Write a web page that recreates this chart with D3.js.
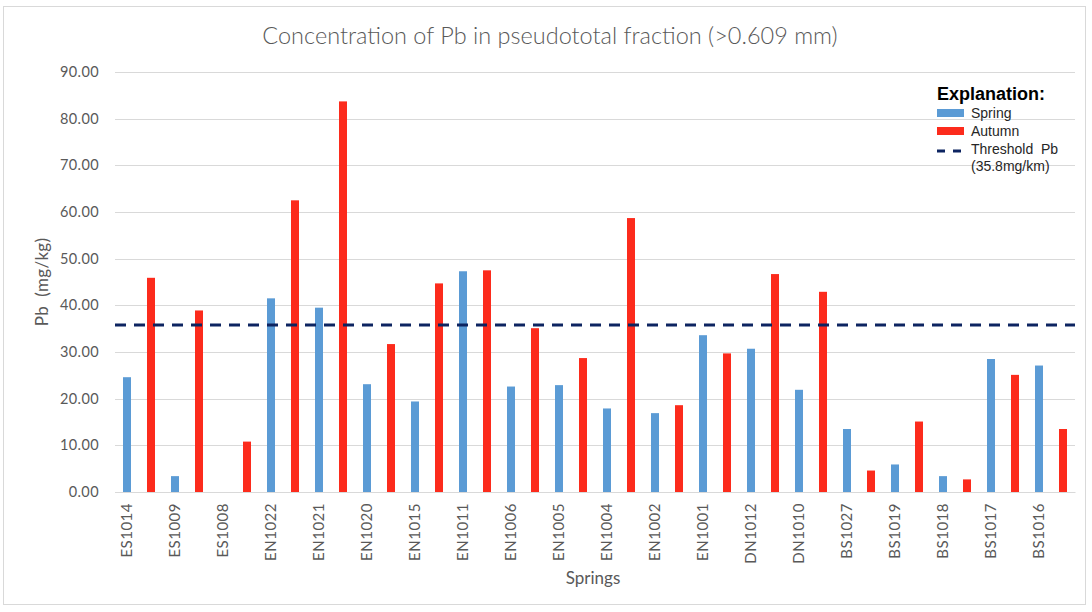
<!DOCTYPE html>
<html><head><meta charset="utf-8">
<script src="https://cdn.jsdelivr.net/npm/d3@7"></script>
<style>body{margin:0;background:#fff;} svg{display:block;} text{white-space:pre;}</style>
</head><body>
<svg id="c" width="1092" height="612"></svg>
<script>
const springs = ["ES1014","ES1009","ES1008","EN1022","EN1021","EN1020","EN1015","EN1011","EN1006","EN1005","EN1004","EN1002","EN1001","DN1012","DN1010","BS1027","BS1019","BS1018","BS1017","BS1016"];
const springValues = [24.6,3.4,0,41.5,39.5,23.1,19.4,47.3,22.6,22.9,17.9,16.9,33.6,30.7,21.9,13.5,5.9,3.4,28.5,27.1];
const autumnValues = [45.9,38.9,10.8,62.5,83.7,31.7,44.7,47.5,35.1,28.7,58.7,18.6,29.7,46.7,42.9,4.6,15.1,2.7,25.1,13.5];
const threshold = 35.8;
const yTicks = [0,10,20,30,40,50,60,70,80,90];

const svg = d3.select("#c");
const M = {left:115, right:1075, top:72, bottom:492};
const font = "Lato, 'Open Sans', sans-serif";

// outer border
svg.append("rect").attr("x",3.5).attr("y",6.5).attr("width",1082).attr("height",598)
  .attr("fill","#fff").attr("stroke","#d9d9d9").attr("stroke-width",1);

const keys = [];
springs.forEach(s => { keys.push(s+"|S"); keys.push(s+"|A"); });
const x = d3.scaleBand().domain(keys).range([M.left, M.right]).paddingInner(0).paddingOuter(0);
const y = d3.scaleLinear().domain([0,90]).range([M.bottom, M.top]);
const bw = 8;

// gridlines
svg.append("g").selectAll("line").data(yTicks).join("line")
  .attr("x1",M.left).attr("x2",M.right)
  .attr("y1",d=>Math.round(y(d))+0.5).attr("y2",d=>Math.round(y(d))+0.5)
  .attr("stroke","#d9d9d9").attr("stroke-width",1);

// y axis labels
const yAxis = d3.axisLeft(y).tickValues(yTicks).tickFormat(d3.format(".2f")).tickSize(0).tickPadding(0);
const gy = svg.append("g").attr("transform",`translate(${M.left-16},0)`).call(yAxis);
gy.select(".domain").remove();
gy.selectAll("text").attr("font-family",font).attr("font-size",14.5).attr("letter-spacing","0.4px").attr("fill","#595959");

const data = [];
springs.forEach((s,i)=>{
  data.push({key:s+"|S", v:springValues[i], c:"#5b9bd5"});
  data.push({key:s+"|A", v:autumnValues[i], c:"#fc2b1c"});
});
svg.append("g").selectAll("rect").data(data.filter(d=>d.v>0)).join("rect")
  .attr("x",d=>x(d.key)+x.bandwidth()/2-bw/2)
  .attr("width",bw)
  .attr("y",d=>y(d.v))
  .attr("height",d=>y(0)-y(d.v))
  .attr("fill",d=>d.c);

// x axis
const xAxis = d3.axisBottom(x).tickValues(springs.map(s=>s+"|S")).tickFormat(d=>d.split("|")[0]).tickSize(0).tickPadding(0);
const gx = svg.append("g").attr("transform",`translate(0,${M.bottom})`).call(xAxis);
gx.select(".domain").attr("stroke","#d9d9d9");
gx.selectAll("text").attr("font-family",font).attr("font-size",15).attr("letter-spacing","0.5px").attr("fill","#595959")
  .attr("transform","rotate(-90)").attr("text-anchor","end").attr("dy","0.35em").attr("x",-11).attr("y",0);

// threshold line
svg.append("line").attr("x1",M.left).attr("x2",M.right)
  .attr("y1",y(threshold)).attr("y2",y(threshold))
  .attr("stroke","#0d2461").attr("stroke-width",3).attr("stroke-dasharray","11,8");

// title
svg.append("text").attr("x",550).attr("y",44).attr("text-anchor","middle")
  .attr("font-family",font).attr("font-weight",300).attr("font-size",23.5).attr("fill","#595959")
  .text("Concentration of Pb in pseudototal fraction (>0.609 mm)");

// axis titles
svg.append("text").attr("transform","translate(48,282) rotate(-90)").attr("text-anchor","middle")
  .attr("font-family",font).attr("font-size",17).attr("letter-spacing","0.3px").attr("fill","#595959").text("Pb  (mg/kg)");
svg.append("text").attr("x",593).attr("y",584).attr("text-anchor","middle")
  .attr("font-family",font).attr("font-size",17).attr("fill","#595959").text("Springs");

// legend
const lf = "'Liberation Sans', Arial, sans-serif";
const lg = svg.append("g");
lg.append("text").attr("x",937).attr("y",100).attr("font-family",lf).attr("font-weight","bold")
  .attr("font-size",18).attr("fill","#000").text("Explanation:");
const items = [{t:"Spring",c:"#5b9bd5",type:"rect"},{t:"Autumn",c:"#fc2b1c",type:"rect"},{t:"Threshold  Pb",c:"#0d2461",type:"line"}];
items.forEach((it,i)=>{
  const yy = 113 + i*18;
  if(it.type==="rect") lg.append("rect").attr("x",937).attr("y",yy-4).attr("width",27).attr("height",8).attr("fill",it.c);
  else lg.append("line").attr("x1",937).attr("x2",964).attr("y1",yy+2).attr("y2",yy+2)
    .attr("stroke",it.c).attr("stroke-width",3).attr("stroke-dasharray","8,8");
  lg.append("text").attr("x",971).attr("y",yy+5).attr("font-family",lf).attr("font-size",14).attr("fill","#262626").text(it.t);
});
lg.append("text").attr("x",971).attr("y",171).attr("font-family",lf).attr("font-size",14).attr("fill","#262626").text("(35.8mg/km)");
</script>
</body></html>
